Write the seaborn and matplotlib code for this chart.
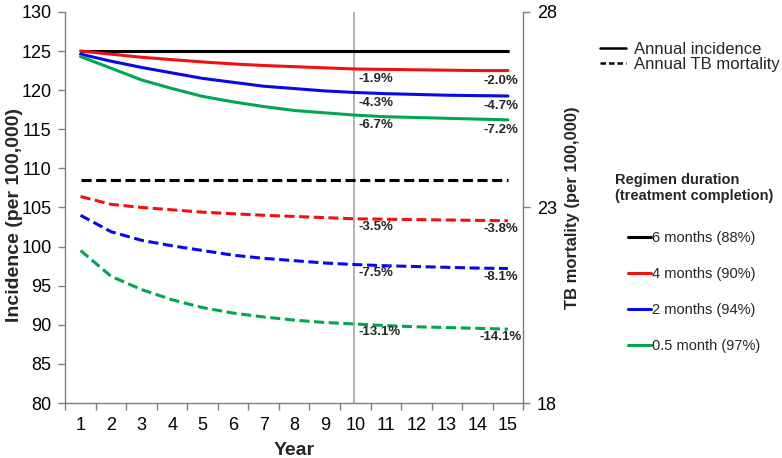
import numpy as np
import pandas as pd
import matplotlib
matplotlib.use("Agg")
import matplotlib.pyplot as plt
from matplotlib.lines import Line2D
from matplotlib.ticker import FixedLocator
import seaborn as sns

# ---------------- data ----------------
years = list(range(1, 16))
regimens = ["6 months (88%)", "4 months (90%)", "2 months (94%)", "0.5 month (97%)"]
colors = ["#000000", "#f01010", "#0808e8", "#00a651"]

inc_6m = [125.0] * 15
inc_4m = [125.0, 124.6, 124.2, 123.9, 123.6, 123.35, 123.15, 123.0, 122.85, 122.7, 122.65, 122.6, 122.55, 122.5, 122.5]
inc_2m = [124.6, 123.7, 122.9, 122.2, 121.5, 121.0, 120.5, 120.2, 119.9, 119.7, 119.55, 119.45, 119.35, 119.3, 119.25]
inc_05m = [124.3, 122.8, 121.3, 120.2, 119.2, 118.5, 117.9, 117.4, 117.1, 116.8, 116.6, 116.5, 116.4, 116.3, 116.2]

mort_6m = [23.7] * 15
mort_4m = [23.28, 23.08, 23.0, 22.94, 22.88, 22.84, 22.8, 22.77, 22.74, 22.71, 22.7, 22.69, 22.68, 22.67, 22.66]
mort_2m = [22.8, 22.38, 22.16, 22.02, 21.9, 21.78, 21.7, 21.64, 21.58, 21.54, 21.51, 21.49, 21.47, 21.45, 21.44]
mort_05m = [21.9, 21.24, 20.9, 20.64, 20.44, 20.3, 20.2, 20.12, 20.06, 20.02, 19.98, 19.95, 19.93, 19.91, 19.89]

inc_pct_y10 = ["-1.9%", "-4.3%", "-6.7%"]
inc_pct_y15 = ["-2.0%", "-4.7%", "-7.2%"]
mort_pct_y10 = ["-3.5%", "-7.5%", "-13.1%"]
mort_pct_y15 = ["-3.8%", "-8.1%", "-14.1%"]

inc_series = [inc_6m, inc_4m, inc_2m, inc_05m]
mort_series = [mort_6m, mort_4m, mort_2m, mort_05m]

inc_df = pd.DataFrame({
    "Year": years * 4,
    "value": sum(inc_series, []),
    "Regimen": sum([[r] * 15 for r in regimens], []),
})
mort_df = pd.DataFrame({
    "Year": years * 4,
    "value": sum(mort_series, []),
    "Regimen": sum([[r] * 15 for r in regimens], []),
})

# ---------------- style ----------------
sns.set_theme(style="white")
plt.rcParams["font.family"] = ["Liberation Sans", "DejaVu Sans"]
plt.rcParams["axes.edgecolor"] = "#7f7f7f"

DASH = (0, (3.3, 1.5))

fig = plt.figure(figsize=(7.82, 4.58), dpi=100)
ax = fig.add_axes([0.0835, 0.12, 0.5855, 0.854])
ax2 = ax.twinx()

pal = dict(zip(regimens, colors))
sns.lineplot(data=inc_df, x="Year", y="value", hue="Regimen", palette=pal,
             ax=ax, legend=False, linewidth=2.2)
sns.lineplot(data=mort_df, x="Year", y="value", hue="Regimen", palette=pal,
             ax=ax2, legend=False, linewidth=2.2)
for ln in ax2.get_lines():
    ln.set_linestyle(DASH)

ax.set_xlim(0.5, 15.5)
ax.set_ylim(80, 130)
ax2.set_ylim(18, 28)

ax.set_yticks(np.arange(80, 131, 5))
ax2.set_yticks([18, 23, 28])
ax.set_xticks(years)
ax.xaxis.set_minor_locator(FixedLocator(np.arange(0.5, 15.6, 1.0)))
ax.tick_params(axis="x", which="major", length=0, labelsize=13, pad=10, colors="black")
ax.tick_params(axis="x", which="minor", length=5, width=1, color="#7f7f7f", direction="out", bottom=True)
ax.tick_params(axis="y", length=5, width=1, color="#7f7f7f", direction="out", labelsize=13, left=True, pad=5)
ax2.tick_params(axis="y", length=5, width=1, color="#7f7f7f", direction="out", labelsize=13, right=True, pad=5)
for lab in ax.get_xticklabels() + ax.get_yticklabels() + ax2.get_yticklabels():
    lab.set_color("black")

for a in (ax, ax2):
    a.spines["top"].set_visible(False)
    for s in a.spines.values():
        s.set_color("#7f7f7f")
        s.set_linewidth(1)
ax.spines["right"].set_visible(False)
ax2.spines["left"].set_visible(False)
ax2.spines["bottom"].set_visible(False)

ax.axvline(9.95, color="#a6a6a6", linewidth=1.2, zorder=0)

ax.set_xlabel("Year", fontsize=14, fontweight="bold", labelpad=6)
ax.set_ylabel("Incidence (per 100,000)", fontsize=14, fontweight="bold")
ax.yaxis.set_label_coords(-0.092, 0.48)
ax2.set_ylabel("TB mortality (per 100,000)", fontsize=12, fontweight="bold", labelpad=6)
ax.grid(False)
ax2.grid(False)

# ---------------- annotations ----------------
for i in range(3):
    s = inc_series[i + 1]
    ax.annotate(inc_pct_y10[i], xy=(10, s[9]), xytext=(2, -3), textcoords="offset points",
                ha="left", va="top", fontsize=9.5, fontweight="bold")
    ax.annotate(inc_pct_y15[i], xy=(15, s[14]), xytext=(-5, -3), textcoords="offset points",
                ha="center", va="top", fontsize=9.5, fontweight="bold")
    m = mort_series[i + 1]
    ax2.annotate(mort_pct_y10[i], xy=(10, m[9]), xytext=(2, -1.5), textcoords="offset points",
                 ha="left", va="top", fontsize=9.5, fontweight="bold")
    ax2.annotate(mort_pct_y15[i], xy=(15, m[14]), xytext=(-5, -1.5), textcoords="offset points",
                 ha="center", va="top", fontsize=9.5, fontweight="bold")

# ---------------- legends ----------------
style_handles = [Line2D([], [], color="black", lw=1.8),
                 Line2D([], [], color="black", lw=1.8, linestyle=(0, (2.2, 1.2)))]
fig.legend(style_handles, ["Annual incidence", "Annual TB mortality"],
           loc="upper left", bbox_to_anchor=(0.767, 0.908), frameon=False,
           fontsize=12, handlelength=1.6, handletextpad=0.45, labelspacing=0.0,
           borderaxespad=0, borderpad=0)

reg_handles = [Line2D([], [], color=c, lw=2.2) for c in colors]
leg2 = fig.legend(reg_handles, regimens, loc="upper left", bbox_to_anchor=(0.786, 0.622),
                  frameon=False, fontsize=10.5, handlelength=1.6, handletextpad=0.05,
                  labelspacing=1.5, borderaxespad=0, borderpad=0,
                  title="Regimen duration\n(treatment completion)",
                  title_fontproperties={"weight": "bold", "size": 10.5})
leg2._legend_box.sep = 20

fig.savefig("out.png", dpi=100)
